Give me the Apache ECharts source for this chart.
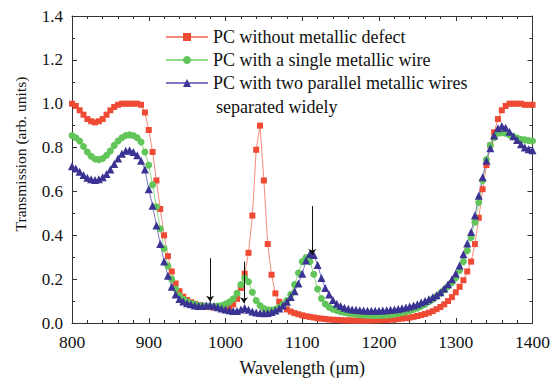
<!DOCTYPE html>
<html>
<head>
<meta charset="utf-8">
<script src="https://cdn.jsdelivr.net/npm/echarts@6/dist/echarts.min.js"></script>
<style>
  html, body { margin: 0; padding: 0; background: #fff; }
  #chart { width: 553px; height: 386px; }
</style>
</head>
<body>
<div id="chart"></div>
<script>
// Wavelength grid (µm), sampled every 5
const wavelength = [];
for (let w = 800; w <= 1400; w += 5) wavelength.push(w);

// Transmission, PC without metallic defect
const noDefect = [
  1.00, 0.99, 0.97, 0.95, 0.93, 0.92, 0.915, 0.92, 0.93, 0.95,
  0.97, 0.985, 0.995, 1.0, 1.0, 1.0, 1.0, 1.0, 0.995, 0.96,
  0.88, 0.78, 0.65, 0.52, 0.40, 0.305, 0.235, 0.18, 0.145, 0.12,
  0.105, 0.095, 0.088, 0.082, 0.078, 0.075, 0.072, 0.07, 0.068, 0.068,
  0.068, 0.072, 0.085, 0.11, 0.16, 0.225, 0.32, 0.49, 0.79, 0.90,
  0.65, 0.36, 0.22, 0.135, 0.097, 0.075, 0.062, 0.052, 0.045, 0.04,
  0.035, 0.031, 0.028, 0.025, 0.022, 0.02, 0.018, 0.016, 0.015, 0.014,
  0.013, 0.012, 0.012, 0.011, 0.011, 0.011, 0.011, 0.011, 0.012, 0.012,
  0.013, 0.013, 0.014, 0.015, 0.016, 0.018, 0.02, 0.022, 0.025, 0.028,
  0.032, 0.036, 0.041, 0.047, 0.054, 0.063, 0.073, 0.085, 0.1, 0.118,
  0.14, 0.165, 0.195, 0.235, 0.28, 0.36, 0.48, 0.61, 0.72, 0.81,
  0.87, 0.93, 0.97, 0.99, 1.0, 1.0, 1.0, 1.0, 0.995, 0.995,
  0.995
];

// Transmission, PC with a single metallic wire
const singleWire = [
  0.855, 0.845, 0.83, 0.805, 0.78, 0.76, 0.748, 0.745, 0.75, 0.765,
  0.785, 0.81, 0.83, 0.845, 0.855, 0.858, 0.855, 0.845, 0.825, 0.78,
  0.72, 0.63, 0.53, 0.43, 0.34, 0.26, 0.2, 0.155, 0.125, 0.108,
  0.097, 0.09, 0.085, 0.08, 0.078, 0.076, 0.075, 0.075, 0.077, 0.08,
  0.086, 0.096, 0.11, 0.135, 0.175, 0.205, 0.188, 0.14, 0.103, 0.08,
  0.066, 0.06, 0.059, 0.063, 0.072, 0.085, 0.103, 0.13, 0.175, 0.228,
  0.28, 0.298, 0.28, 0.222, 0.155, 0.112, 0.087, 0.072, 0.063, 0.057,
  0.052, 0.048, 0.045, 0.042, 0.04, 0.038, 0.036, 0.035, 0.034, 0.034,
  0.034, 0.035, 0.036, 0.038, 0.04, 0.043, 0.047, 0.051, 0.056, 0.062,
  0.069, 0.077, 0.086, 0.097, 0.109, 0.122, 0.136, 0.151, 0.167, 0.185,
  0.205, 0.24, 0.28, 0.33, 0.39, 0.46, 0.55, 0.65, 0.745, 0.81,
  0.845, 0.865, 0.868, 0.865, 0.858, 0.85, 0.843, 0.838, 0.835, 0.832,
  0.83
];

// Transmission, PC with two parallel metallic wires separated widely
const twoWires = [
  0.715, 0.705, 0.69, 0.675, 0.662, 0.655, 0.652, 0.655, 0.665, 0.68,
  0.7, 0.725, 0.75, 0.772, 0.785, 0.788, 0.78, 0.765, 0.74, 0.70,
  0.61, 0.535, 0.445, 0.36, 0.28, 0.215, 0.165, 0.13, 0.11, 0.098,
  0.09, 0.085, 0.08, 0.078, 0.078, 0.08, 0.082, 0.078, 0.072, 0.066,
  0.062, 0.058, 0.055, 0.055, 0.062, 0.068, 0.06, 0.052, 0.048, 0.046,
  0.045, 0.046, 0.05, 0.057, 0.066, 0.08, 0.097, 0.118, 0.145, 0.18,
  0.225, 0.285, 0.315, 0.31, 0.265, 0.205, 0.16, 0.13, 0.105, 0.088,
  0.078, 0.07, 0.065, 0.062, 0.06, 0.058, 0.057, 0.056, 0.056, 0.056,
  0.056, 0.057, 0.058, 0.06, 0.062, 0.064, 0.067, 0.071, 0.075, 0.08,
  0.085, 0.093, 0.1, 0.108, 0.117, 0.127, 0.14, 0.157, 0.177, 0.2,
  0.226, 0.262, 0.313, 0.363, 0.415, 0.49, 0.58, 0.665, 0.74, 0.797,
  0.855, 0.888, 0.898, 0.89, 0.872, 0.852, 0.835, 0.815, 0.8, 0.792,
  0.788
];

// Resonance markers: wavelength, arrow tail and arrow head heights
const arrowX = [980, 1024, 1113];
const arrowTail = [0.295, 0.28, 0.533];
const arrowHead = [0.097, 0.09, 0.31];

const seriesNames = [
  'PC without metallic defect',
  'PC with a single metallic wire',
  'PC with two parallel metallic wires'
];

const serif = 'Liberation Serif';
const axisColor = '#333';

function pairs(ys) {
  return wavelength.map((w, i) => [w, ys[i]]);
}

const chart = echarts.init(document.getElementById('chart'), null, { renderer: 'svg' });

const xCommon = {
  type: 'value', min: 800, max: 1400, interval: 100,
  axisLine: { show: true, onZero: false, lineStyle: { color: axisColor, width: 1 } },
  axisTick: { show: true, inside: true, length: 5, lineStyle: { color: axisColor } },
  minorTick: { show: true, splitNumber: 5, length: 3, lineStyle: { color: axisColor } },
  splitLine: { show: false }
};
const yCommon = {
  type: 'value', min: 0, max: 1.4, interval: 0.2,
  axisLine: { show: true, onZero: false, lineStyle: { color: axisColor, width: 1 } },
  axisTick: { show: true, inside: true, length: 5, lineStyle: { color: axisColor } },
  minorTick: { show: true, splitNumber: 2, length: 3, lineStyle: { color: axisColor } },
  splitLine: { show: false }
};

chart.setOption({
  animation: false,
  backgroundColor: '#fff',
  textStyle: { fontFamily: serif },
  grid: { left: 72, right: 17, top: 16, bottom: 63 },
  legend: {
    orient: 'vertical',
    left: 160, top: 23,
    itemWidth: 42, itemHeight: 10, itemGap: 5,
    data: seriesNames,
    textStyle: { fontFamily: serif, fontSize: 18, color: '#111' }
  },
  graphic: [{
    type: 'text', left: 216, top: 98,
    style: { text: 'separated widely', fontFamily: serif, fontSize: 18, fill: '#111' }
  }],
  xAxis: [
    Object.assign({}, xCommon, {
      position: 'bottom',
      name: 'Wavelength (\u03bcm)', nameLocation: 'middle', nameGap: 36,
      nameTextStyle: { fontFamily: serif, fontSize: 18, color: '#111' },
      axisLabel: { fontFamily: serif, fontSize: 17.5, color: '#111', margin: 10,
        formatter: v => String(v) }
    }),
    Object.assign({}, xCommon, { position: 'top', axisLabel: { show: false } })
  ],
  yAxis: [
    Object.assign({}, yCommon, {
      position: 'left',
      name: 'Transmission (arb. units)', nameLocation: 'middle', nameGap: 44,
      nameTextStyle: { fontFamily: serif, fontSize: 15.5, color: '#111', padding: [0, 0, 0, 31] },
      axisLabel: { fontFamily: serif, fontSize: 17, color: '#111', margin: 9,
        formatter: v => v.toFixed(1) }
    }),
    Object.assign({}, yCommon, { position: 'right', axisLabel: { show: false } })
  ],
  series: [
    {
      name: seriesNames[0], type: 'line', data: pairs(noDefect),
      symbol: 'rect', symbolSize: 6, showAllSymbol: true,
      itemStyle: { color: '#ee4a34' },
      lineStyle: { color: '#f58a7a', width: 1 }
    },
    {
      name: seriesNames[1], type: 'line', data: pairs(singleWire),
      symbol: 'circle', symbolSize: 7, showAllSymbol: true,
      itemStyle: { color: '#62c55a' },
      lineStyle: { color: '#8fda88', width: 1 }
    },
    {
      name: seriesNames[2], type: 'line', data: pairs(twoWires),
      symbol: 'triangle', symbolSize: 8, showAllSymbol: true,
      itemStyle: { color: '#3a3394' },
      lineStyle: { color: '#7c78c4', width: 1 },
      markLine: {
        silent: true, animation: false,
        symbol: ['none', 'arrow'], symbolSize: 6,
        lineStyle: { color: '#111', width: 1, type: 'solid' },
        itemStyle: { color: '#111' },
        label: { show: false },
        emphasis: { disabled: true },
        data: arrowX.map((x, i) => [
          { coord: [x, arrowTail[i]] },
          { coord: [x, arrowHead[i]] }
        ])
      }
    }
  ]
});
</script>
</body>
</html>
